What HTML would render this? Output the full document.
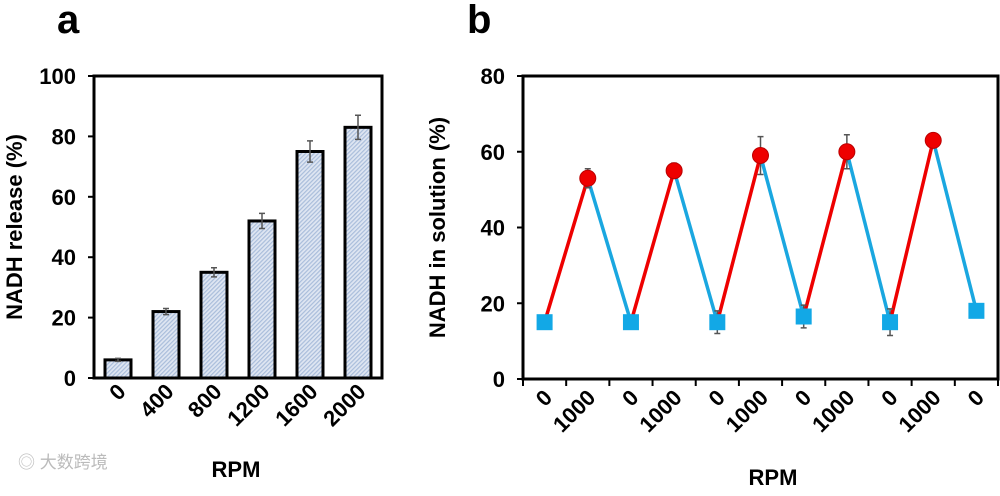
<!DOCTYPE html>
<html><head><meta charset="utf-8"><style>
body{margin:0;background:#fff;}
svg text{font-family:"Liberation Sans",Arial,sans-serif;font-weight:bold;fill:#000;}
</style></head><body>
<svg id="s" width="1000" height="491" viewBox="0 0 1000 491">
<defs>
<pattern id="hatch" width="3" height="3" patternUnits="userSpaceOnUse" patternTransform="rotate(45)">
<rect width="3" height="3" fill="#dfe6f2"/><rect width="1.2" height="3" fill="#a9bddb"/>
</pattern>
</defs>
<text x="57" y="33" font-size="40">a</text>
<text x="467" y="33" font-size="40">b</text>
<g id="ga"></g><g id="gb"></g>
<text x="18" y="468" font-size="17" style="font-weight:normal;fill:#bbb" font-family="'Liberation Sans','Noto Sans CJK SC',sans-serif">◎ 大数跨境</text>
</svg>
<script>
const NS="http://www.w3.org/2000/svg";
const aCats=["0","400","800","1200","1600","2000"];
const aVals=[6,22,35,52,75,83];
const aErr=[0.5,1,1.5,2.5,3.5,4];
const aTicks=[0,20,40,60,80,100];
const bLabels=["0","1000","0","1000","0","1000","0","1000","0","1000","0"];
const bVals=[15,53,15,55,15,59,16.5,60,15,63,18];
const bErr=[0,2.5,0,2,3,5,3,4.5,3.5,0,0];
const bTicks=[0,20,40,60,80];
function el(p,t,a,txt){const e=document.createElementNS(NS,t);for(const k in a)e.setAttribute(k,a[k]);if(txt!==undefined)e.textContent=txt;p.appendChild(e);return e;}
// Panel a
const ga=document.getElementById('ga');
const aL=94,aR=382,aT=76,aB=378;
const ay=v=>aB-(v/100)*(aB-aT);
const aStep=(aR-aL)/aCats.length;
const ax=i=>aL+aStep*(i+0.5);
aTicks.forEach(t=>{
 const l=el(ga,'line',{x1:aL-6,x2:aL,y1:ay(t),y2:ay(t),stroke:'#000','stroke-width':2});
 
 const tx=el(ga,'text',{x:aL-18,y:ay(t)+8,'font-size':22,'text-anchor':'end'},t);
 
});
aVals.forEach((v,i)=>{
 const r=el(ga,'rect',{x:ax(i)-13,y:ay(v),width:26,height:aB-ay(v),fill:'url(#hatch)',stroke:'#000','stroke-width':3});
 
 const e=aErr[i];
 const eb=el(ga,'path',{d:`M${ax(i)} ${ay(v+e)}V${ay(v-e)}M${ax(i)-3} ${ay(v+e)}h6M${ax(i)-3} ${ay(v-e)}h6`,stroke:'#555','stroke-width':1.5,fill:'none'});
 
 const tx=el(ga,'text',{x:ax(i)+9,y:393,'font-size':22,'text-anchor':'end',transform:`rotate(-45 ${ax(i)+9} 393)`},aCats[i]);
 
});
const fa=el(ga,'rect',{x:aL,y:aT,width:aR-aL,height:aB-aT,fill:'none',stroke:'#000','stroke-width':3});

const yta=el(ga,'text',{x:22,y:(aT+aB)/2,'font-size':22,'text-anchor':'middle',transform:`rotate(-90 22 ${(aT+aB)/2})`},'NADH release (%)');

const xta=el(ga,'text',{x:236,y:477,'font-size':22,'text-anchor':'middle'},'RPM');

// Panel b
const gb=document.getElementById('gb');
const bL=523,bR=998,bT=76,bB=379;
const by=v=>bB-(v/80)*(bB-bT);
const bStep=(bR-bL)/bLabels.length;
const bx=i=>bL+bStep*(i+0.5);
bTicks.forEach(t=>{
 const l=el(gb,'line',{x1:bL-6,x2:bL,y1:by(t),y2:by(t),stroke:'#000','stroke-width':2});
 
 const tx=el(gb,'text',{x:bL-18,y:by(t)+8,'font-size':22,'text-anchor':'end'},t);
 
});
for(let i=0;i<=bLabels.length;i++){
 const l=el(gb,'line',{x1:bL+bStep*i,x2:bL+bStep*i,y1:bB,y2:bB+7,stroke:'#000','stroke-width':2});
 
}
for(let i=0;i<bVals.length-1;i++){
 const s=el(gb,'line',{x1:bx(i),y1:by(bVals[i]),x2:bx(i+1),y2:by(bVals[i+1]),stroke:i%2==0?'#ee0000':'#1aa7e0','stroke-width':3.5});
 
}
bVals.forEach((v,i)=>{
 const e=bErr[i];
 if(e>0){const eb=el(gb,'path',{d:`M${bx(i)} ${by(v+e)}V${by(v-e)}M${bx(i)-3} ${by(v+e)}h6M${bx(i)-3} ${by(v-e)}h6`,stroke:'#555','stroke-width':1.5,fill:'none'});
 }
 let m;
 if(i%2==0){m=el(gb,'rect',{x:bx(i)-8,y:by(v)-8,width:16,height:16,fill:'#12a8e6'});}
 else{m=el(gb,'circle',{cx:bx(i),cy:by(v),r:8,fill:'#ee0000',stroke:'#b00','stroke-width':1});}
 
 const tx=el(gb,'text',{x:bx(i)+9,y:399,'font-size':22,'text-anchor':'end',transform:`rotate(-45 ${bx(i)+9} 399)`},bLabels[i]);
 
});
const fb=el(gb,'rect',{x:bL,y:bT,width:bR-bL,height:bB-bT,fill:'none',stroke:'#000','stroke-width':3});

const ytb=el(gb,'text',{x:445,y:(bT+bB)/2,'font-size':22,'text-anchor':'middle',transform:`rotate(-90 445 ${(bT+bB)/2})`},'NADH in solution (%)');

const xtb=el(gb,'text',{x:773,y:485,'font-size':22,'text-anchor':'middle'},'RPM');

</script>
</body></html>
